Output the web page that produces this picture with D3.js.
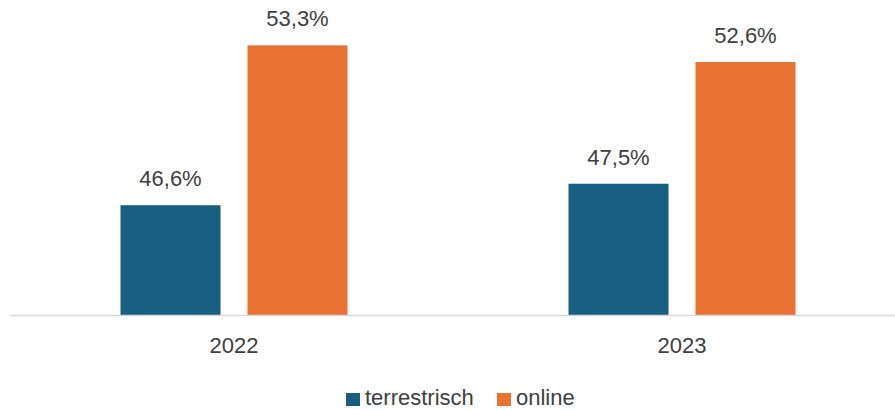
<!DOCTYPE html>
<meta charset="utf-8">
<script src="https://d3js.org/d3.v7.min.js"></script>
<style>
  body { margin: 0; background: #fff; }
  text { font-family: "Liberation Sans", Arial, sans-serif; fill: #404040; }
</style>
<div id="my_dataviz"></div>
<script>
  // data
  const years = ["2022", "2023"]
  const series = ["terrestrisch", "online"]
  const terrestrisch = [46.6, 47.5]
  const online = [53.3, 52.6]
  const colors = ["#175f80", "#e97132"]

  const W = 895, H = 410
  const fmt = v => v.toFixed(1).replace(".", ",") + "%"

  const svg = d3.select("#my_dataviz")
    .append("svg")
      .attr("width", W)
      .attr("height", H)

  // scales
  const x0 = d3.scaleBand().domain(years).range([10, 906])
  const x1 = d3.scaleBand().domain(series).range([0, x0.bandwidth()])
    .paddingInner(0.2126).paddingOuter(0.87)
  const y = d3.scaleLinear().domain([42, 55.2]).range([315, 0])
  const color = d3.scaleOrdinal().domain(series).range(colors)

  const rows = years.map((yr, i) => ({year: yr, values: [
    {key: "terrestrisch", value: terrestrisch[i]},
    {key: "online", value: online[i]}
  ]}))

  const groups = svg.selectAll("g.year")
    .data(rows)
    .join("g")
      .attr("class", "year")
      .attr("transform", d => `translate(${x0(d.year)},0)`)

  groups.selectAll("rect")
    .data(d => d.values)
    .join("rect")
      .attr("x", d => x1(d.key))
      .attr("y", d => y(d.value))
      .attr("width", x1.bandwidth())
      .attr("height", d => y.range()[0] - y(d.value))
      .attr("fill", d => color(d.key))

  groups.selectAll("text.lbl")
    .data(d => d.values)
    .join("text")
      .attr("class", "lbl")
      .attr("x", d => x1(d.key) + x1.bandwidth() / 2)
      .attr("y", d => y(d.value) - 19)
      .attr("text-anchor", "middle")
      .style("font-size", "22px")
      .text(d => fmt(d.value))

  // x axis line
  svg.append("line")
    .attr("x1", 10).attr("x2", W)
    .attr("y1", 315.5).attr("y2", 315.5)
    .attr("stroke", "#d9d9d9")
    .attr("stroke-width", 1.5)

  svg.selectAll("text.cat")
    .data(years)
    .join("text")
      .attr("class", "cat")
      .attr("x", d => x0(d) + x0.bandwidth() / 2)
      .attr("y", 353)
      .attr("text-anchor", "middle")
      .style("font-size", "22px")
      .text(d => d)

  // legend
  const legX = [346, 497]
  const leg = svg.selectAll("g.leg")
    .data(series)
    .join("g")
      .attr("class", "leg")
      .attr("transform", (d, i) => `translate(${legX[i]},393)`)
  leg.append("rect")
    .attr("width", 14).attr("height", 13)
    .attr("fill", d => color(d))
  leg.append("text")
    .attr("x", 19).attr("y", 12)
    .style("font-size", "22px")
    .text(d => d)
</script>
